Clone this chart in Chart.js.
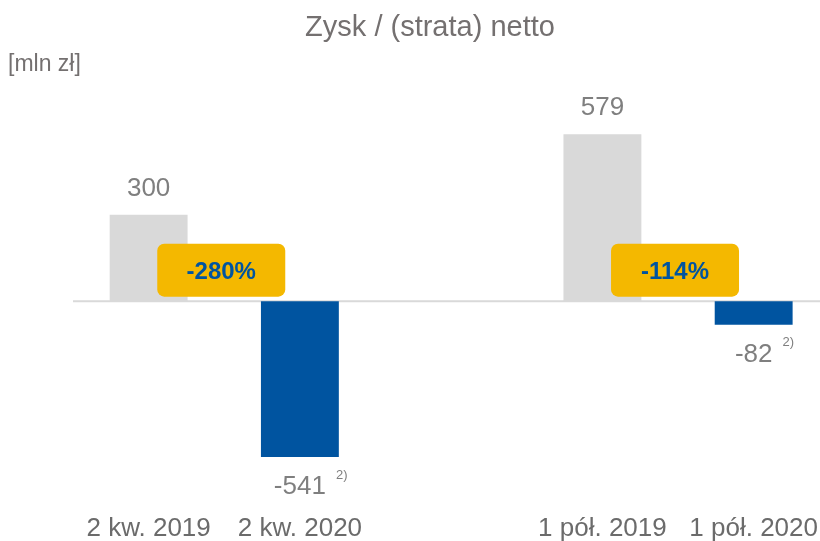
<!DOCTYPE html>
<html>
<head>
<meta charset="utf-8">
<script src="https://cdn.jsdelivr.net/npm/chart.js@4/dist/chart.umd.min.js"></script>
<style>
  html, body { margin: 0; padding: 0; background: #ffffff; overflow: hidden; }
  #wrap { width: 831px; height: 541px; }
</style>
</head>
<body>
<div id="wrap"><canvas id="c" width="831" height="541"></canvas></div>
<script>
const categories = ['2 kw. 2019', '2 kw. 2020', '', '1 pół. 2019', '1 pół. 2020'];
const values = [300, -541, null, 579, -82];
const valueNotes = ['', '2)', '', '', '2)'];
const changeLabels = ['-280%', '-114%'];
const changePairs = [[0, 1], [3, 4]];
const titleText = 'Zysk / (strata) netto';
const unitText = '[mln zł]';

const GRAY = '#D9D9D9';
const BLUE = '#0054A0';
const barColors = values.map((v, i) => (i === 1 || i === 4) ? BLUE : GRAY);

const decorPlugin = {
  id: 'decor',
  beforeDatasetsDraw(chart) {
    const ctx = chart.ctx;
    const y0 = chart.scales.y.getPixelForValue(0);
    ctx.save();
    ctx.strokeStyle = '#D9D9D9';
    ctx.lineWidth = 2;
    ctx.beginPath();
    ctx.moveTo(chart.chartArea.left, y0);
    ctx.lineTo(chart.chartArea.right, y0);
    ctx.stroke();
    ctx.restore();
  },
  afterDatasetsDraw(chart) {
    const ctx = chart.ctx;
    const meta = chart.getDatasetMeta(0);
    const y0 = chart.scales.y.getPixelForValue(0);
    ctx.save();
    // title
    ctx.fillStyle = '#747070';
    ctx.font = '29px "Liberation Sans", Arial, sans-serif';
    ctx.textAlign = 'center';
    ctx.textBaseline = 'alphabetic';
    ctx.fillText(titleText, 430, 36);
    // unit
    ctx.font = '23px "Liberation Sans", Arial, sans-serif';
    ctx.textAlign = 'left';
    ctx.textBaseline = 'middle';
    ctx.fillText(unitText, 8, 65);
    // value labels
    values.forEach((v, i) => {
      if (v === null) return;
      const el = meta.data[i];
      ctx.fillStyle = '#7F7F7F';
      ctx.font = '26px "Liberation Sans", Arial, sans-serif';
      ctx.textAlign = 'center';
      ctx.textBaseline = 'middle';
      const ty = v >= 0 ? el.y - 26 : el.y + 30;
      const txt = String(v);
      ctx.fillText(txt, el.x, ty);
      if (valueNotes[i]) {
        const w = ctx.measureText(txt).width;
        ctx.font = '13px "Liberation Sans", Arial, sans-serif';
        ctx.textAlign = 'left';
        ctx.fillText(valueNotes[i], el.x + w / 2 + 10, ty - 12);
      }
    });
    // change badges
    changePairs.forEach((p, k) => {
      const a = meta.data[p[0]], b = meta.data[p[1]];
      const cx = (a.x + b.x) / 2 - 3;
      const cy = y0 - 31;
      const w = 128, h = 53, r = 7;
      ctx.fillStyle = '#F4B800';
      ctx.beginPath();
      ctx.roundRect(cx - w / 2, cy - h / 2, w, h, r);
      ctx.fill();
      ctx.fillStyle = '#0054A0';
      ctx.font = 'bold 24px "Liberation Sans", Arial, sans-serif';
      ctx.textAlign = 'center';
      ctx.textBaseline = 'middle';
      ctx.fillText(changeLabels[k], cx, cy + 2);
    });
    ctx.restore();
  }
};

new Chart(document.getElementById('c'), {
  type: 'bar',
  data: {
    labels: categories,
    datasets: [{
      data: values,
      backgroundColor: barColors,
      borderWidth: 0,
      barPercentage: 0.515,
      categoryPercentage: 1.0
    }]
  },
  options: {
    responsive: false,
    devicePixelRatio: 1,
    animation: false,
    layout: { padding: { top: 72, left: 73, right: 0, bottom: 0 } },
    plugins: { legend: { display: false }, tooltip: { enabled: false }, title: { display: false } },
    scales: {
      x: {
        offset: true,
        grid: { display: false, drawTicks: false },
        border: { display: false },
        ticks: {
          color: '#6B6B6B',
          font: { size: 26, family: '"Liberation Sans", Arial, sans-serif' },
          padding: 13,
          maxRotation: 0,
          autoSkip: false
        },
        afterFit(scale) { scale.height = 41; }
      },
      y: {
        display: false,
        min: -690,
        max: 795
      }
    }
  },
  plugins: [decorPlugin]
});
</script>
</body>
</html>
